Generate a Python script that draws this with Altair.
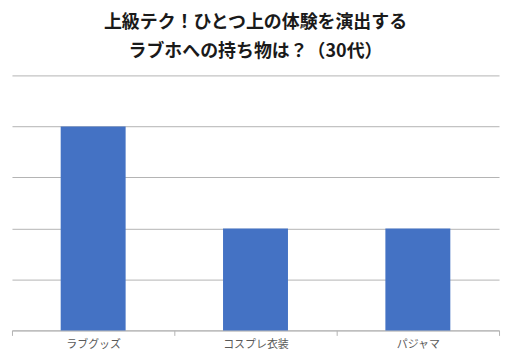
import altair as alt
import pandas as pd

categories = ["ラブグッズ", "コスプレ衣装", "パジャマ"]
values = [4, 2, 2]
title_lines = ["上級テク！ひとつ上の体験を演出する", "ラブホへの持ち物は？（30代）"]

df = pd.DataFrame({"item": categories, "value": values})

chart = alt.Chart(df).mark_bar(color="#4472C4", width=alt.RelativeBandSize(0.4)).encode(
    x=alt.X("item:N", sort=categories, title=None,
            scale=alt.Scale(paddingInner=0, paddingOuter=0),
            axis=alt.Axis(labelAngle=0, labelFont="Noto Sans CJK JP", labelFontSize=11,
                          labelColor="#595959", domainColor="#b3b3b3", tickColor="#b3b3b3",
                          tickSize=5, tickBand="extent", labelPadding=3, grid=False)),
    y=alt.Y("value:Q", title=None,
            scale=alt.Scale(domain=[0, 5], nice=False),
            axis=alt.Axis(labels=False, ticks=False, domain=False, grid=True,
                          values=[0, 1, 2, 3, 4, 5], gridColor="#b3b3b3")),
).properties(
    width=489,
    height=256,
    background="white",
    title=alt.TitleParams(text=title_lines, font="Noto Sans CJK JP", fontSize=18,
                          fontWeight="bold", color="#1a1a1a", lineHeight=30,
                          anchor="middle", offset=14),
    padding={"left": 3, "top": 5, "right": 4, "bottom": 2},
).configure_view(strokeWidth=0, stroke="transparent")

chart.save("out.html", embed_options={"renderer": "svg", "actions": False})
